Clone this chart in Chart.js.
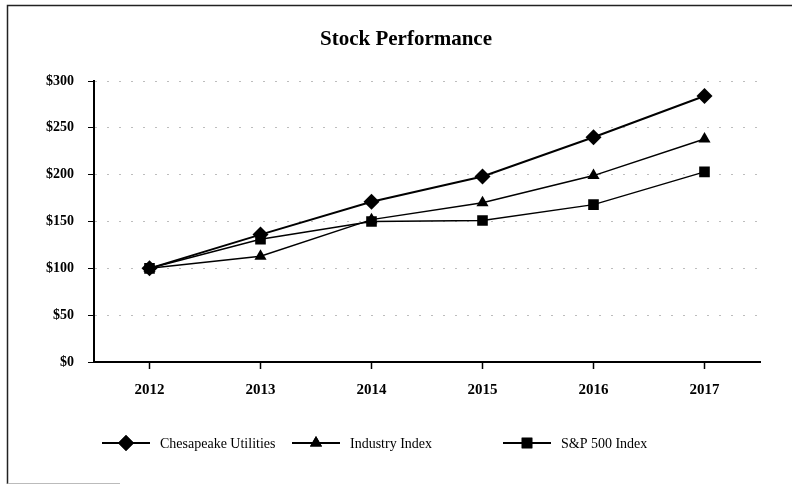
<!DOCTYPE html>
<html>
<head>
<meta charset="utf-8">
<title>Stock Performance</title>
<script src="https://cdn.jsdelivr.net/npm/chart.js@4.4.1/dist/chart.umd.min.js"></script>
<style>
  html, body { margin: 0; padding: 0; background: #fff; }
  #wrap { width: 792px; height: 484px; }
</style>
</head>
<body>
<div id="wrap"><canvas id="stockChart" width="792" height="484"></canvas></div>
<script>
// chart data
const years = ['2012', '2013', '2014', '2015', '2016', '2017'];
const chesapeake = [100, 136, 171, 198, 240, 284];
const industry = [100, 113, 152, 170, 199, 238];
const sp500 = [100, 131, 150, 151, 168, 203];
const yTicks = [0, 50, 100, 150, 200, 250, 300];

const seriesNames = ['Chesapeake Utilities', 'Industry Index', 'S&P 500 Index'];
const markerStyles = ['rectRot', 'triangle', 'rect'];
const markerSizes = [8, 7, 7.5];

const serif = "'Liberation Serif', 'DejaVu Serif', serif";

// little line+marker swatch for the legend
function legendSwatch(style, r) {
  const c = document.createElement('canvas');
  c.width = 48; c.height = 18;
  const g = c.getContext('2d');
  g.strokeStyle = '#000';
  g.lineWidth = 2;
  g.beginPath();
  g.moveTo(0, 9); g.lineTo(48, 9);
  g.stroke();
  Chart.helpers.drawPoint(g, {pointStyle: style, radius: r, rotation: 0, borderWidth: 0}, 24, 9);
  g.fillStyle = '#000';
  g.fill();
  return c;
}

// title, legend and the scanned frame, drawn after the chart
const decorations = {
  id: 'decorations',
  afterDraw(chart) {
    const ctx = chart.ctx;
    const area = chart.chartArea;
    ctx.save();
    // frame
    ctx.strokeStyle = '#222';
    ctx.lineWidth = 1.5;
    ctx.beginPath();
    ctx.moveTo(7.5, 484); ctx.lineTo(7.5, 5.5); ctx.lineTo(792, 5.5);
    ctx.stroke();
    ctx.strokeStyle = '#bbb';
    ctx.lineWidth = 1;
    ctx.beginPath();
    ctx.moveTo(7.5, 483.5); ctx.lineTo(120, 483.5);
    ctx.stroke();

    // title
    ctx.fillStyle = '#000';
    ctx.font = 'bold 21px ' + serif;
    ctx.textAlign = 'center';
    ctx.textBaseline = 'middle';
    ctx.fillText('Stock Performance', 406, 40);

    // legend
    const legendX = [102, 292, 503];
    const legendY = area.bottom + 81;
    ctx.font = '14px ' + serif;
    ctx.textAlign = 'left';
    seriesNames.forEach((name, i) => {
      const sw = legendSwatch(markerStyles[i], markerSizes[i]);
      ctx.drawImage(sw, legendX[i], legendY - 9);
      ctx.fillText(name, legendX[i] + 58, legendY + 1);
    });
    ctx.restore();
  }
};

const datasets = [chesapeake, industry, sp500].map((vals, i) => ({
  label: seriesNames[i],
  data: vals,
  borderColor: '#000',
  backgroundColor: '#000',
  borderWidth: i === 0 ? 2 : 1.5,
  pointStyle: markerStyles[i],
  pointRadius: markerSizes[i],
  pointBackgroundColor: '#000',
  pointBorderColor: '#000',
  pointBorderWidth: 0,
  tension: 0,
  fill: false
}));

new Chart(document.getElementById('stockChart').getContext('2d'), {
  type: 'line',
  data: { labels: years, datasets: datasets.reverse() },
  plugins: [decorations],
  options: {
    responsive: false,
    devicePixelRatio: 1,
    animation: false,
    layout: { padding: { top: 81, right: 32, bottom: 82, left: 0 } },
    plugins: {
      legend: { display: false },
      title: { display: false },
      tooltip: { enabled: false }
    },
    scales: {
      x: {
        type: 'category',
        offset: true,
        afterFit(scale) { scale.height = 40; },
        border: { display: true, color: '#000', width: 2 },
        grid: {
          offset: false,
          drawOnChartArea: false,
          drawTicks: true,
          tickLength: 7,
          tickColor: '#000',
          tickWidth: 1.5
        },
        ticks: {
          color: '#000',
          padding: 12,
          font: { family: serif, size: 15, weight: 'bold' }
        }
      },
      y: {
        min: 0,
        max: 300,
        afterFit(scale) { scale.width = 94; },
        afterBuildTicks(scale) { scale.ticks = yTicks.map(v => ({ value: v })); },
        border: { display: true, color: '#000', width: 2, dash: [2, 10] },
        grid: {
          color: '#bdbdbd',
          lineWidth: 1,
          drawTicks: true,
          tickLength: 6,
          tickColor: '#000',
          tickWidth: 1
        },
        ticks: {
          color: '#000',
          padding: 14,
          font: { family: serif, size: 14, weight: 'bold' },
          callback: v => '$' + v
        }
      }
    }
  }
});
</script>
</body>
</html>
